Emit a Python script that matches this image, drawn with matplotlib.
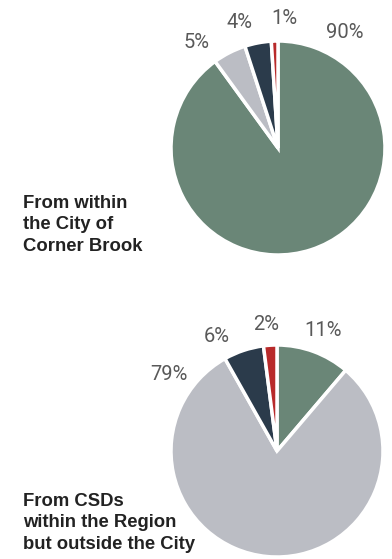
import matplotlib
matplotlib.use("Agg")
import matplotlib.pyplot as plt

# Share of trips by destination, clockwise from 12 o'clock
segment_colors = ["#6a8677", "#bbbdc4", "#2b3b4b", "#b82a2a"]

city_values = [90, 5, 4, 1]
city_labels = ["90%", "5%", "4%", "1%"]
city_title = "From within\nthe City of\nCorner Brook"

region_values = [11, 79, 6, 2]
region_labels = ["11%", "79%", "6%", "2%"]
region_title = "From CSDs\nwithin the Region\nbut outside the City"

W, H = 392, 559
fig = plt.figure(figsize=(W / 100, H / 100), dpi=100)
fig.patch.set_facecolor("white")

label_font = dict(family=["Roboto", "DejaVu Sans"], fontweight="normal",
                  fontsize=14.5, color="#595959", ha="center", va="center")
title_font = dict(family=["Liberation Sans", "DejaVu Sans"], fontweight="bold",
                  fontsize=13.3, color="#222222", ha="left", va="top",
                  linespacing=1.33)


def draw_pie(cx, cy, r, values, labels, label_pos, title, title_xy):
    ax = fig.add_axes([(cx - r) / W, (H - cy - r) / H, 2 * r / W, 2 * r / H])
    ax.pie(values, colors=segment_colors, startangle=90, counterclock=False,
           normalize=True,
           wedgeprops=dict(edgecolor="white", linewidth=2.5))
    ax.set_xlim(-1, 1)
    ax.set_ylim(-1, 1)
    ax.set_aspect("equal")
    ax.axis("off")
    for lab, (lx, ly) in zip(labels, label_pos):
        fig.text(lx / W, 1 - ly / H, lab, **label_font)
    fig.text(title_xy[0] / W, 1 - title_xy[1] / H, title, **title_font)


draw_pie(278, 148, 107, city_values, city_labels,
         [(345, 32), (197, 43), (239, 22), (284, 19)],
         city_title, (23, 195))

draw_pie(277, 451, 106, region_values, region_labels,
         [(323, 331), (169, 374), (217, 336), (266, 324)],
         region_title, (23, 493))

fig.savefig("out.png", dpi=100, facecolor="white")
